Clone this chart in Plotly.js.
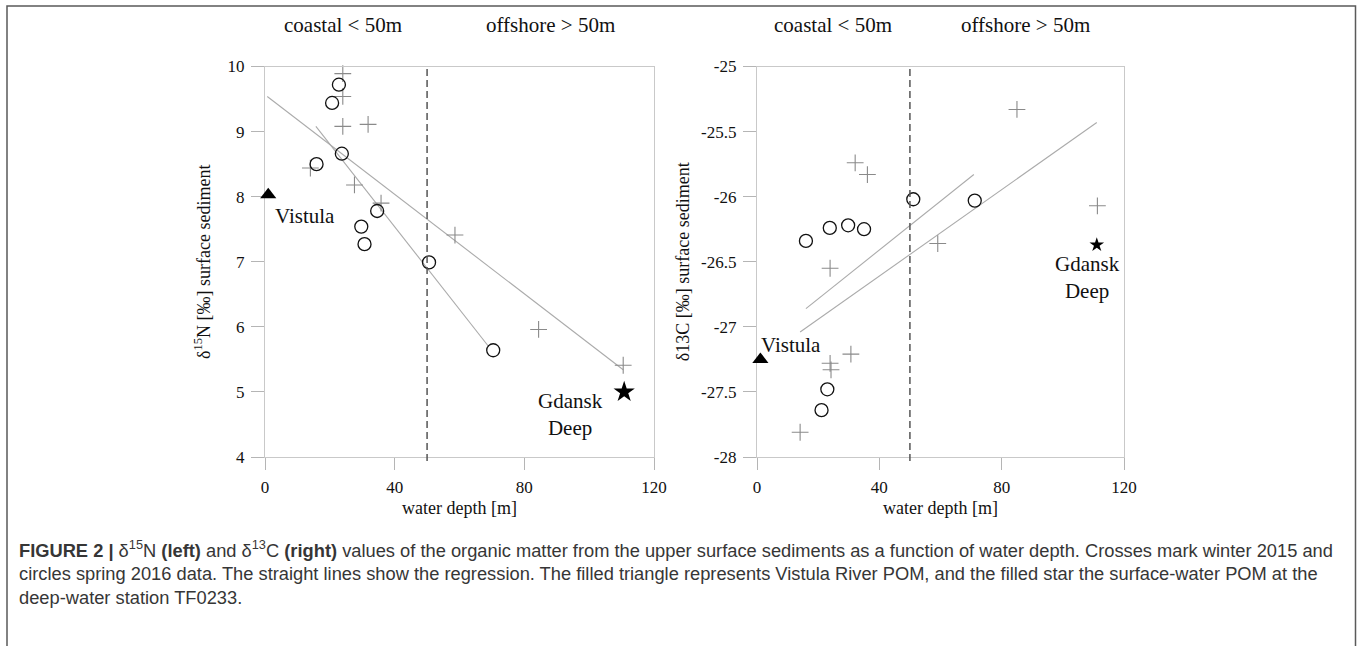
<!DOCTYPE html>
<html>
<head>
<meta charset="utf-8">
<script src="https://cdn.plot.ly/plotly-3.0.1.min.js"></script>
<style>
  html, body { margin: 0; padding: 0; background: #fff; }
  #chart { width: 1357px; height: 646px; }
</style>
</head>
<body>
<div id="chart"></div>
<script>
// ---- δ15N panel (left) ----
const n15WinterDepth = [24.0, 24.0, 24.0, 31.8, 14.0, 27.6, 35.8, 58.6, 84.4, 110.5];
const n15WinterValue = [9.89, 9.54, 9.08, 9.11, 8.44, 8.18, 7.90, 7.41, 5.96, 5.41];
const n15SpringDepth = [22.8, 20.7, 23.7, 15.9, 34.6, 29.7, 30.7, 50.6, 70.4];
const n15SpringValue = [9.72, 9.44, 8.66, 8.50, 7.78, 7.54, 7.27, 6.99, 5.64];
const n15RegAllDepth = [0.7, 110.5];
const n15RegAllValue = [9.54, 5.34];
const n15RegSpringDepth = [15.7, 69.1];
const n15RegSpringValue = [9.08, 5.69];
const n15VistulaDepth = [1.0];
const n15VistulaValue = [8.03];
const n15GdanskDepth = [110.8];
const n15GdanskValue = [5.0];
const n15Ticks = [4, 5, 6, 7, 8, 9, 10];

// ---- δ13C panel (right) ----
const c13WinterDepth = [85.0, 32.1, 36.1, 111.3, 59.1, 23.9, 30.7, 23.9, 24.2, 14.1];
const c13WinterValue = [-25.33, -25.74, -25.83, -26.07, -26.36, -26.55, -27.21, -27.28, -27.33, -27.81];
const c13SpringDepth = [51.1, 71.2, 23.8, 29.8, 35.0, 16.0, 23.0, 21.1];
const c13SpringValue = [-26.02, -26.03, -26.24, -26.22, -26.25, -26.34, -27.48, -27.64];
const c13RegUpperDepth = [16.0, 70.9];
const c13RegUpperValue = [-26.86, -25.83];
const c13RegLowerDepth = [14.1, 111.1];
const c13RegLowerValue = [-27.04, -25.43];
const c13VistulaDepth = [1.1];
const c13VistulaValue = [-27.25];
const c13GdanskDepth = [111.1];
const c13GdanskValue = [-26.37];
const c13Ticks = [-28, -27.5, -27, -26.5, -26, -25.5, -25];
const c13TickText = ['-28', '-27.5', '-27', '-26.5', '-26', '-25.5', '-25'];

const depthTicks = [0, 40, 80, 120];
const depthRange = [0, 120];
const zoneBoundary = 50;

const W = 1357, H = 646;
const px = v => v / W;
const py = v => 1 - v / H;

// pixel extents of the two plotting frames
const leftFrame = [265, 654];
const rightFrame = [757, 1124];
// reference markers sit on the frame edge, so they get a slightly wider, hidden x axis
// with the same scale so that they are not cut off by the plot clip
const EDGE_PAD = 12;
function paddedAxis(frame) {
  const perUnit = (frame[1] - frame[0]) / (depthRange[1] - depthRange[0]);
  const padUnits = EDGE_PAD / perUnit;
  return {
    domain: [px(frame[0] - EDGE_PAD), px(frame[1] + EDGE_PAD)],
    range: [depthRange[0] - padUnits, depthRange[1] + padUnits],
    visible: false, showgrid: false, zeroline: false, fixedrange: true
  };
}

const SERIF = "'Liberation Serif', 'Times New Roman', serif";
const SANS = "'Liberation Sans', Arial, sans-serif";
const crossStyle = { symbol: 'cross-thin-open', size: 12, color: '#8a8a8a', line: { width: 1.1, color: '#8a8a8a' } };
const circleStyle = { symbol: 'circle-open', size: 13, color: '#111', line: { width: 1.3, color: '#111' } };
const regLine = { color: '#ababab', width: 1.1 };

function panelTraces(xa, xaEdge, ya, d) {
  const common = { xaxis: xa, yaxis: ya, cliponaxis: false, hoverinfo: 'skip' };
  return [
    { ...common, x: d.regA[0], y: d.regA[1], mode: 'lines', line: regLine },
    { ...common, x: d.regB[0], y: d.regB[1], mode: 'lines', line: regLine },
    { ...common, x: d.winter[0], y: d.winter[1], mode: 'markers', marker: crossStyle, name: 'winter 2015' },
    { ...common, x: d.spring[0], y: d.spring[1], mode: 'markers', marker: circleStyle, name: 'spring 2016' },
    { ...common, xaxis: xaEdge, x: d.vistula[0], y: d.vistula[1], mode: 'markers', marker: { symbol: 'triangle-up', size: 14, color: '#000' }, name: 'Vistula' },
    { ...common, xaxis: xaEdge, x: d.gdansk[0], y: d.gdansk[1], mode: 'markers', marker: { symbol: 'star', size: d.starSize, color: '#000' }, name: 'Gdansk Deep' }
  ];
}

const traces = [
  ...panelTraces('x', 'x3', 'y', {
    regA: [n15RegAllDepth, n15RegAllValue], regB: [n15RegSpringDepth, n15RegSpringValue],
    winter: [n15WinterDepth, n15WinterValue], spring: [n15SpringDepth, n15SpringValue],
    vistula: [n15VistulaDepth, n15VistulaValue], gdansk: [n15GdanskDepth, n15GdanskValue], starSize: 16
  }),
  ...panelTraces('x2', 'x4', 'y2', {
    regA: [c13RegUpperDepth, c13RegUpperValue], regB: [c13RegLowerDepth, c13RegLowerValue],
    winter: [c13WinterDepth, c13WinterValue], spring: [c13SpringDepth, c13SpringValue],
    vistula: [c13VistulaDepth, c13VistulaValue], gdansk: [c13GdanskDepth, c13GdanskValue], starSize: 11
  })
];

const yDomain = [py(457), py(66.5)];
const tickFont = { family: SERIF, size: 17, color: '#111' };

function xAxis(frame, anchor) {
  return {
    domain: [px(frame[0]), px(frame[1])], anchor: anchor, range: depthRange, tickvals: depthTicks,
    showline: true, mirror: true, linecolor: '#c9c9c9', linewidth: 1.2,
    ticks: 'outside', ticklen: 12, tickcolor: '#b5b5b5', tickwidth: 1.2,
    ticklabelstandoff: 2,
    showgrid: false, zeroline: false,
    tickfont: tickFont,
    title: { text: 'water depth [m]', font: { family: SERIF, size: 18, color: '#111' }, standoff: 5 }
  };
}
function yAxis(range, vals, text, anchor, title, standoff) {
  return {
    domain: yDomain, anchor: anchor, range: range, tickvals: vals, ticktext: text,
    showline: true, mirror: true, linecolor: '#c9c9c9', linewidth: 1.2,
    ticks: 'outside', ticklen: 13, tickcolor: '#b5b5b5', tickwidth: 1.2,
    ticklabelstandoff: 3,
    showgrid: false, zeroline: false,
    tickfont: tickFont,
    title: { text: title, font: { family: SERIF, size: 18, color: '#111' }, standoff: standoff }
  };
}

const annFont = { family: SERIF, size: 21, color: '#111' };
const zoneFont = { family: SERIF, size: 21, color: '#111' };
const capFont = { family: SANS, size: 18.3, color: '#363636' };

function paperText(x, y, text, font, xanchor) {
  return { xref: 'paper', yref: 'paper', x: px(x), y: py(y), xanchor: xanchor || 'center', yanchor: 'middle',
           text: text, showarrow: false, font: font };
}

const annotations = [
  paperText(343, 25, 'coastal < 50m', zoneFont),
  paperText(550, 25, 'offshore > 50m', zoneFont),
  paperText(833, 25, 'coastal < 50m', zoneFont),
  paperText(1025, 25, 'offshore > 50m', zoneFont),
  { xref: 'x', yref: 'y', x: 2.5, y: 7.70, xanchor: 'left', yanchor: 'middle', text: 'Vistula', showarrow: false, font: annFont },
  { xref: 'x', yref: 'y', x: 94.2, y: 4.66, xanchor: 'center', yanchor: 'middle', text: 'Gdansk<br>Deep', showarrow: false, font: annFont, align: 'center' },
  { xref: 'x2', yref: 'y2', x: 0.8, y: -27.14, xanchor: 'left', yanchor: 'middle', text: 'Vistula', showarrow: false, font: annFont },
  { xref: 'x2', yref: 'y2', x: 108.2, y: -26.62, xanchor: 'center', yanchor: 'middle', text: 'Gdansk<br>Deep', showarrow: false, font: annFont, align: 'center' },
  paperText(17, 549, '<b>FIGURE 2 |</b> δ<sup>15</sup>N <b>(left)</b> and δ<sup>13</sup>C <b>(right)</b> values of the organic matter from the upper surface sediments as a function of water depth. Crosses mark winter 2015 and', capFont, 'left'),
  paperText(17, 573, 'circles spring 2016 data. The straight lines show the regression. The filled triangle represents Vistula River POM, and the filled star the surface-water POM at the', capFont, 'left'),
  paperText(17, 597, 'deep-water station TF0233.', capFont, 'left')
];

const dashLine = { color: '#555', width: 1.5, dash: '7px,4px' };
const shapes = [
  { type: 'line', xref: 'x', yref: 'y domain', x0: zoneBoundary, x1: zoneBoundary, y0: -0.01, y1: 1, line: dashLine },
  { type: 'line', xref: 'x2', yref: 'y2 domain', x0: zoneBoundary, x1: zoneBoundary, y0: -0.01, y1: 1, line: dashLine },
  // figure frame: top, left and right edges
  { type: 'path', xref: 'paper', yref: 'paper',
    path: `M ${px(7)} ${py(650)} L ${px(7)} ${py(6)} L ${px(1355.5)} ${py(6)} L ${px(1355.5)} ${py(650)}`,
    line: { color: '#5a5a5a', width: 1.5 } }
];

const layout = {
  width: W, height: H,
  margin: { l: 0, r: 0, t: 0, b: 0 },
  paper_bgcolor: '#fff', plot_bgcolor: 'rgba(0,0,0,0)',
  showlegend: false,
  xaxis: xAxis(leftFrame, 'y'),
  yaxis: yAxis([4, 10], n15Ticks, n15Ticks.map(String), 'x', 'δ<sup>15</sup>N [‰] surface sediment', 12),
  xaxis2: xAxis(rightFrame, 'y2'),
  yaxis2: yAxis([-28, -25], c13Ticks, c13TickText, 'x2', 'δ13C [‰] surface sediment', 6),
  xaxis3: { ...paddedAxis(leftFrame), anchor: 'y' },
  xaxis4: { ...paddedAxis(rightFrame), anchor: 'y2' },
  annotations: annotations,
  shapes: shapes
};

Plotly.newPlot('chart', traces, layout, { displayModeBar: false });
</script>
</body>
</html>
